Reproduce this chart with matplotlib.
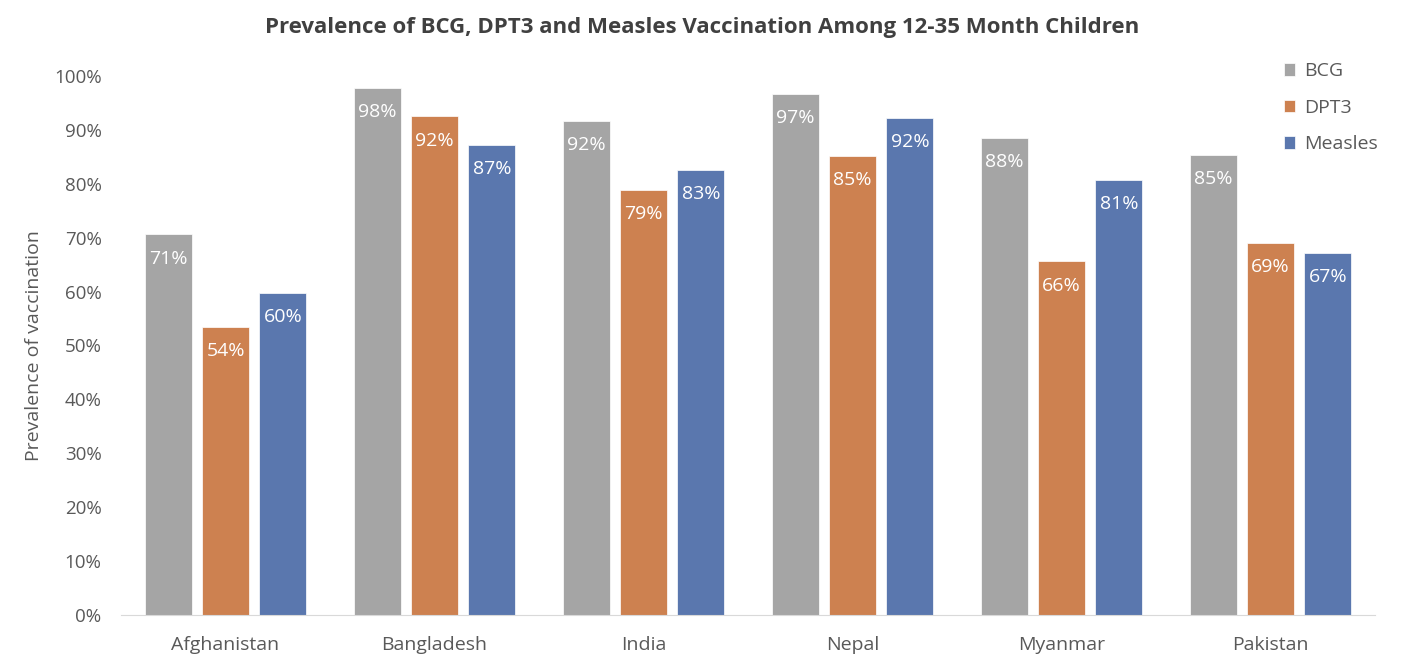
import numpy as np
import matplotlib.pyplot as plt

plt.rcParams['font.family'] = ['Open Sans', 'DejaVu Sans']

countries = ["Afghanistan", "Bangladesh", "India", "Nepal", "Myanmar", "Pakistan"]
bcg = [70.6, 97.8, 91.7, 96.6, 88.5, 85.3]
dpt3 = [53.5, 92.5, 78.9, 85.2, 65.6, 69.0]
measles = [59.7, 87.2, 82.6, 92.2, 80.7, 67.2]
series = [("BCG", bcg, "#A5A5A5"), ("DPT3", dpt3, "#CD8150"), ("Measles", measles, "#5A77AE")]

text_col = "#595959"

fig = plt.figure(figsize=(14.04, 6.64), dpi=100)
ax = fig.add_axes([121 / 1404, 1 - 615 / 664, 1254 / 1404, (615 - 76) / 664])

x = np.arange(len(countries))
width = 0.225
step = 0.275
for i, (name, vals, col) in enumerate(series):
    pos = x + (i - 1) * step
    ax.bar(pos, vals, width, color=col, label=name, edgecolor="white", linewidth=0.5)
    for p, v in zip(pos, vals):
        ax.text(p, v - 2.8, f"{v:.0f}%", ha="center", va="top", color="white", fontsize=14)

ax.set_xlim(-0.5, len(countries) - 0.5)
ax.set_ylim(0, 100)
ax.set_yticks(np.arange(0, 101, 10))
ax.set_yticklabels([f"{t}%" for t in range(0, 101, 10)])
ax.set_xticks(x)
ax.set_xticklabels(countries)
ax.tick_params(axis="both", length=0, colors=text_col, labelsize=14)
ax.tick_params(axis="y", pad=14, labelsize=13.5)
ax.tick_params(axis="x", pad=15)
for s in ["top", "right", "left"]:
    ax.spines[s].set_visible(False)
ax.spines["bottom"].set_color("#D9D9D9")

ax.set_ylabel("Prevalence of vaccination", color=text_col, fontsize=14, labelpad=8)

fig.suptitle("Prevalence of BCG, DPT3 and Measles Vaccination Among 12-35 Month Children",
             x=0.5, y=0.975, fontsize=16, fontweight="bold", color="#404040")

ax.legend(loc="upper left", bbox_to_anchor=(1266 / 1404, 1 - 45 / 664), bbox_transform=fig.transFigure,
          frameon=False, fontsize=14, labelcolor=text_col, handlelength=0.6, handleheight=0.6,
          handletextpad=0.45, labelspacing=0.95)

fig.savefig("out.png", dpi=100)
